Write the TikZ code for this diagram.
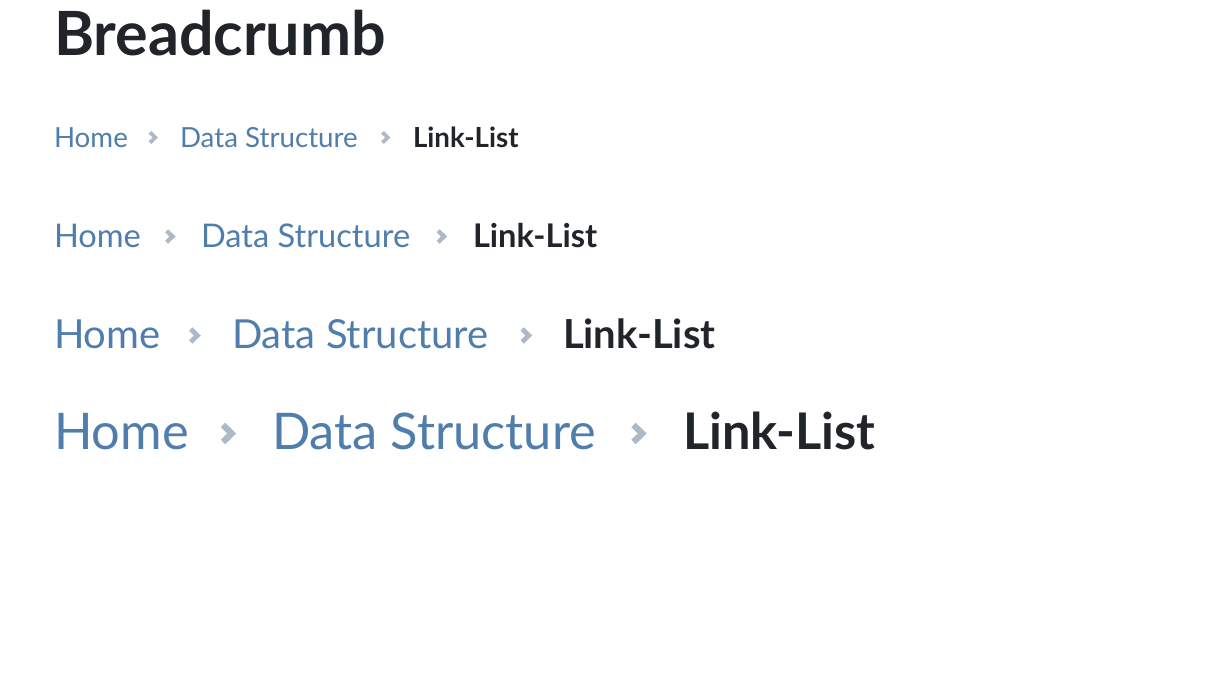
\documentclass[tikz,border=0pt]{standalone}
\usepackage{fontspec}
\setmainfont{Lato}
\definecolor{linkblue}{HTML}{507EAC}
\definecolor{chevgray}{HTML}{AEB8C6}
\definecolor{darktext}{HTML}{212529}
\newcommand\chevron[3]{\draw[chevline, line width=#3*0.25pt] ({#1-0.2*#3},{-(#2-0.34*#3)}) -- ({#1+0.15*#3},{-#2}) -- ({#1-0.2*#3},{-(#2+0.34*#3)});}
\begin{document}
\begin{tikzpicture}[x=1pt,y=1pt,
  txt/.style={anchor=base west, inner sep=0pt, outer sep=0pt},
  lnk/.style={txt, text=linkblue},
  cur/.style={txt, text=darktext},
  chevline/.style={draw=chevgray, line cap=butt, line join=miter}]
\useasboundingbox[fill=white] (0,0) rectangle (1216,-693);
\node[txt, text=darktext, font=\fontsize{61}{72}\selectfont\bfseries] (title) at (54,-56) {Breadcrumb};
% row 1
\begin{scope}[font=\fontsize{27.7}{34}\selectfont]
\node[lnk] (h1) at (54,-147) {Home};
\node[lnk] (d1) at (180,-147) {Data Structure};
\node[cur] (l1) at (413,-147) {\textbf{Link-List}};
\end{scope}
\chevron{153}{137.5}{15}
\chevron{385.5}{137.5}{15}
% row 2
\begin{scope}[font=\fontsize{32.6}{40}\selectfont]
\node[lnk] (h2) at (54,-247) {Home};
\node[lnk] (d2) at (201,-247) {Data Structure};
\node[cur] (l2) at (473,-247) {\textbf{Link-List}};
\end{scope}
\chevron{170}{236.5}{17}
\chevron{441.5}{236.5}{17}
% row 3
\begin{scope}[font=\fontsize{40}{50}\selectfont]
\node[lnk] (h3) at (54,-348) {Home};
\node[lnk] (d3) at (232,-348) {Data Structure};
\node[cur] (l3) at (563,-348) {\textbf{Link-List}};
\end{scope}
\chevron{194.5}{335.5}{19}
\chevron{526}{335.5}{19}
% row 4
\begin{scope}[font=\fontsize{50.5}{60}\selectfont]
\node[lnk] (h4) at (54,-449) {Home};
\node[lnk] (d4) at (272,-449) {Data Structure};
\node[cur] (l4) at (683,-449) {\textbf{Link-List}};
\end{scope}
\chevron{228}{433.5}{25}
\chevron{638.5}{433.5}{25}
\end{tikzpicture}
\end{document}
